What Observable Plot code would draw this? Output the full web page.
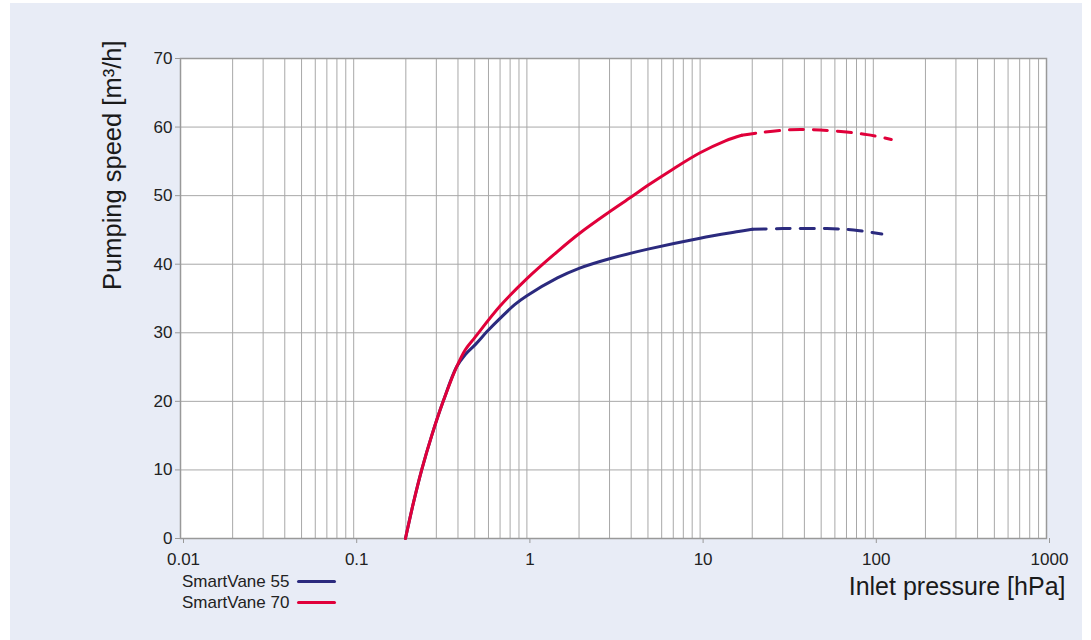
<!DOCTYPE html>
<html><head><meta charset="utf-8">
<script src="https://cdn.jsdelivr.net/npm/d3@7"></script>
<script src="https://cdn.jsdelivr.net/npm/@observablehq/plot@0.6"></script>
<style>
body{margin:0;background:#fff;font-family:"Liberation Sans",Arial,sans-serif;}
#wrap{position:relative;width:1091px;height:640px;overflow:hidden;}
#bg{position:absolute;left:10px;top:3px;width:1072px;height:637px;background:#e8ecf6;}
#chart{position:absolute;left:0;top:0;}
#legend{position:absolute;left:182px;top:571px;font-size:17px;color:#222;}
.item{display:flex;align-items:center;height:21px;white-space:nowrap;}
.sw{display:inline-block;width:39px;height:3px;margin-left:8px;border-radius:2px;}
</style></head>
<body><div id="wrap"><div id="bg"></div><div id="chart"></div><div id="legend"></div></div>
<script>
// SmartVane 55 (blue) – measured part (solid) and extrapolated part (dashed)
const sv55PressureSolid = [0.199, 0.2203, 0.2469, 0.2821, 0.3286, 0.3922, 0.44, 0.5, 0.6, 0.7, 0.85, 1, 1.5, 2, 3, 5, 10, 17, 20];
const sv55SpeedSolid    = [0, 5, 10, 15, 20, 25, 26.8, 28.2, 30.4, 32.1, 34.1, 35.4, 38.0, 39.4, 40.8, 42.2, 43.8, 44.8, 45.1];
const sv55PressureDash  = [20, 30, 54, 77, 112];
const sv55SpeedDash     = [45.1, 45.2, 45.2, 45.0, 44.4];

// SmartVane 70 (red)
const sv70PressureSolid = [0.199, 0.2203, 0.2469, 0.2821, 0.3286, 0.3922, 0.44, 0.5, 0.7, 1, 1.5, 2, 3, 4, 5, 7, 10, 14, 17.4];
const sv70SpeedSolid    = [0, 5, 10, 15, 20, 25, 27.5, 29.3, 33.9, 37.9, 41.85, 44.45, 47.65, 49.8, 51.5, 53.9, 56.25, 58.0, 58.8];
const sv70PressureDash  = [17.4, 22.3, 33, 45, 65, 92, 127];
const sv70SpeedDash     = [58.8, 59.2, 59.6, 59.6, 59.35, 58.9, 58.2];

const seriesNames  = ["SmartVane 55", "SmartVane 70"];
const seriesColors = ["#2b2a7e", "#e0003a"];

const xTicks = [0.01, 0.1, 1, 10, 100, 1000];
const yTicks = [0, 10, 20, 30, 40, 50, 60, 70];
const xLabel = "Inlet pressure [hPa]";
const yLabel = "Pumping speed [m³/h]";

const rows = (ps, vs, name) => ps.map((p, i) => ({p, v: vs[i], name}));
const solid = [
  ...rows(sv55PressureSolid, sv55SpeedSolid, seriesNames[0]),
  ...rows(sv70PressureSolid, sv70SpeedSolid, seriesNames[1])
];
const dashed = [
  ...rows(sv55PressureDash, sv55SpeedDash, seriesNames[0]),
  ...rows(sv70PressureDash, sv70SpeedDash, seriesNames[1])
];
// minor grid positions of the log axis (1..9 per decade)
const gridX = d3.scaleLog().domain([0.01, 1000]).ticks(50);

const chart = Plot.plot({
  width: 1091, height: 640,
  marginLeft: 180, marginRight: 45, marginTop: 58, marginBottom: 102,
  style: {background: "transparent", fontFamily: "'Liberation Sans', Arial, sans-serif", color: "#222"},
  x: {type: "log", domain: [0.01, 1000], label: null},
  y: {domain: [0, 70], label: null},
  color: {domain: seriesNames, range: seriesColors},
  marks: [
    Plot.frame({fill: "white", stroke: null}),
    Plot.gridX(gridX, {stroke: "#a8a8a8", strokeOpacity: 1, strokeWidth: 1}),
    Plot.gridY(yTicks, {stroke: "#a8a8a8", strokeOpacity: 1, strokeWidth: 1}),
    Plot.frame({stroke: "#999", strokeWidth: 1.5}),
    Plot.axisX(xTicks, {tickSize: 5, tickPadding: 9, fontSize: 17, dx: 3, stroke: "#999", tickFormat: d => String(d), label: null}),
    Plot.axisY(yTicks, {tickSize: 5, tickPadding: 3, fontSize: 17, stroke: "#999", label: null}),
    Plot.line(solid, {x: "p", y: "v", z: "name", stroke: "name", strokeWidth: 3, curve: "catmull-rom"}),
    Plot.line(dashed, {x: "p", y: "v", z: "name", stroke: "name", strokeWidth: 3, strokeDasharray: "14,10", curve: "catmull-rom"}),
    Plot.text([xLabel], {text: d => d, frameAnchor: "bottom-right", textAnchor: "end", dx: 19, dy: 56, fontSize: 25, fill: "#1a1a1a"}),
    Plot.text([yLabel], {text: d => d, frameAnchor: "top-left", textAnchor: "end", rotate: -90, dx: -78, dy: -18, fontSize: 25.5, fill: "#1a1a1a"})
  ]
});
document.getElementById("chart").appendChild(chart);

const legend = document.getElementById("legend");
seriesNames.forEach((n, i) => {
  const item = document.createElement("div");
  item.className = "item";
  item.innerHTML = `<span>${n}</span><span class="sw" style="background:${seriesColors[i]}"></span>`;
  legend.appendChild(item);
});
</script>
</body></html>
